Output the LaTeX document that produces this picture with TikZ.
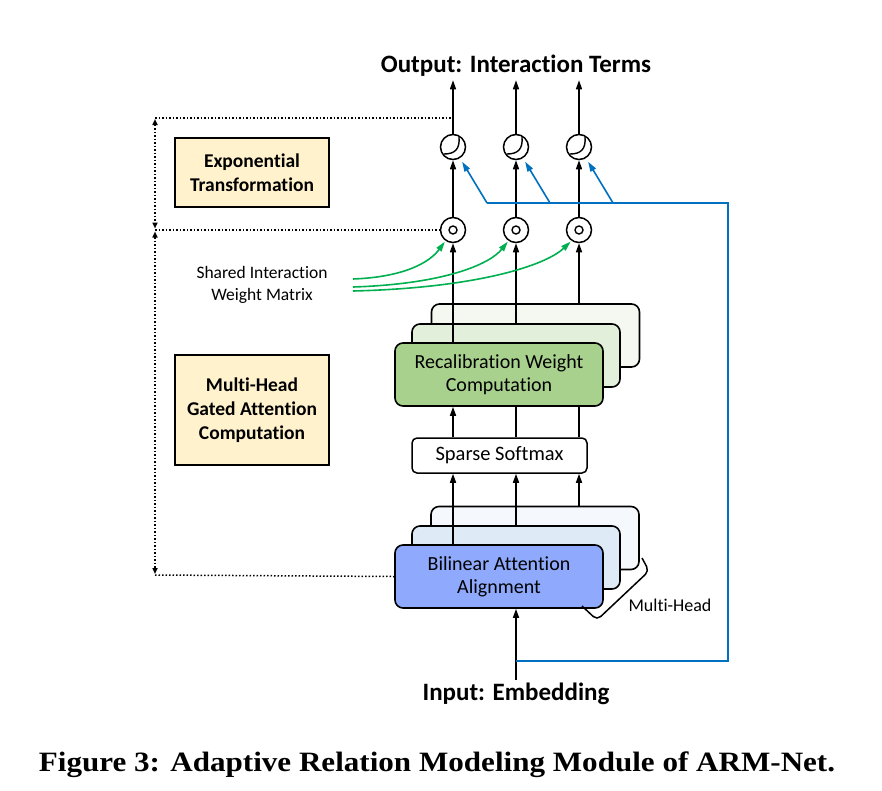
\documentclass[tikz,border=0pt]{standalone}
\usepackage{fontspec}
\setmainfont{Carlito}[Ligatures=NoCommon]
\newfontfamily\capfont{Liberation Serif}[FakeStretch=1.11]
\usetikzlibrary{arrows.meta,positioning,calc}
\definecolor{Blue}{HTML}{0070C0}
\definecolor{Green}{HTML}{00B050}
\definecolor{Cream}{HTML}{FFF2CC}
\definecolor{GreenA}{HTML}{A9D18E}
\definecolor{GreenB}{HTML}{E2EFDA}
\definecolor{GreenC}{HTML}{F4F8F0}
\definecolor{BlueA}{HTML}{8FAAFC}
\definecolor{BlueB}{HTML}{DEEBF7}
\definecolor{BlueC}{HTML}{F5F8FD}
\tikzset{
  stack/.style={rounded corners=8pt,draw,line width=1.6pt,minimum width=208pt,minimum height=63pt,align=center,inner sep=0pt,font=\fontsize{20}{23}\selectfont},
  note/.style={draw,line width=1.4pt,fill=Cream,minimum width=154pt,align=center,inner sep=0pt,font=\fontsize{19.5}{24}\selectfont\bfseries},
  gate/.style={circle,draw,line width=1.5pt,minimum size=25pt,inner sep=0pt,fill=white},
  arrow/.style={-{Triangle[length=9pt,width=6pt]},line width=1.5pt},
  guide/.style={dotted,line width=1.5pt},
  guidearrow/.style={{Triangle[length=6pt,width=5pt]}-{Triangle[length=6pt,width=5pt]},dotted,line width=1.5pt},
  bluearrow/.style={-{Triangle[length=10pt,width=6pt]},line width=1.6pt,draw=Blue},
  greenarrow/.style={-{Triangle[length=10pt,width=6pt]},line width=1.6pt,draw=Green},
  title/.style={font=\fontsize{25}{28}\selectfont\bfseries}
}
\begin{document}
\begin{tikzpicture}[x=1pt,y=-1pt]
  \useasboundingbox (0,0) rectangle (882,790);

  \node[title] (output) at (516,66) {Output: Interaction Terms};
  \node[title] (input) at (516,694) {Input: Embedding};

  \node[note,minimum height=69pt] (expnote) at (252,172.5) {Exponential\\Transformation};
  \node[note,minimum height=110pt] (attnote) at (252,410) {Multi-Head\\Gated Attention\\Computation};
  \node[align=center,font=\fontsize{17.5}{22}\selectfont] (shared) at (262,285) {Shared Interaction\\Weight Matrix};

  \node[stack,fill=GreenC] (recal3) at (535.5,335.5) {};
  \node[stack,fill=GreenB] (recal2) at (516,355.5) {};
  \node[stack,fill=GreenA] (recal) at (499,374.5) {Recalibration Weight\\Computation};

  \node[draw,line width=1.5pt,rounded corners=5pt,minimum width=175pt,minimum height=35pt,inner sep=0pt,font=\fontsize{20.5}{22}\selectfont] (soft) at (499.5,455.5) {Sparse Softmax};

  \node[stack,fill=BlueC] (bil3) at (535,538) {};
  \node[stack,fill=BlueB] (bil2) at (516,557.5) {};
  \node[stack,fill=BlueA] (bil) at (499,576.5) {Bilinear Attention\\Alignment};

  \foreach \i/\x in {1/453,2/516,3/579}{
    \node[gate] (o\i) at (\x,230) {};
    \draw[line width=1.4pt] (o\i) circle (4pt);
    \node[gate] (e\i) at (\x,147) {};
    \draw[line width=1.4pt] ($(e\i)+(-9,7)$) .. controls ($(e\i)+(2,7)$) and ($(e\i)+(7,2)$) .. ($(e\i)+(6,-10)$);
    \draw[arrow] (o\i) -- (e\i);
    \draw[arrow] (e\i) -- (output.south -| e\i);
  }

  \draw[arrow] (recal.north -| o1) -- (o1);
  \draw[arrow] (recal2.north -| o2) -- (o2);
  \draw[arrow] (recal3.north -| o3) -- (o3);

  \draw[arrow] (soft.north -| o1) -- (recal.south -| o1);
  \draw[line width=1.5pt] (soft.north -| o2) -- (recal.south -| o2);
  \draw[line width=1.5pt] (soft.north -| o3) -- (recal.south -| o3);

  \draw[arrow] (bil.north -| o1) -- (soft.south -| o1);
  \draw[arrow] (bil2.north -| o2) -- (soft.south -| o2);
  \draw[arrow] (bil3.north -| o3) -- (soft.south -| o3);

  \draw[arrow] (input.north) -- (input.north |- bil.south);

  \draw[line width=1.5pt,rounded corners=5pt] (582,606) -- (597,620) -- (649,571) -- (642,558);
  \node[font=\fontsize{18}{20}\selectfont] (heads) at (670,605) {Multi-Head};

  \coordinate (tap) at (516,661);
  \coordinate (bus1) at (487,203);
  \coordinate (bus2) at (550,203);
  \coordinate (bus3) at (613,203);
  \draw[line width=1.6pt,draw=Blue] (tap) -| (728,203) -- (bus1);
  \foreach \i in {1,2,3}{
    \draw[bluearrow,shorten >=4pt] (bus\i) -- (e\i.-58);
  }

  \draw[greenarrow,shorten >=1pt] (353,279) .. controls (405,277) and (430,262) .. (o1.-125);
  \draw[greenarrow,shorten >=1pt] (353,287) .. controls (445,284) and (490,264) .. (o2.-125);
  \draw[greenarrow,shorten >=1pt] (353,291) .. controls (475,288) and (545,266) .. (o3.-125);

  \coordinate (g1) at (155,118);
  \coordinate (g2) at (155,230);
  \coordinate (g3) at (155,575);
  \draw[guide] (g1) -- (g1 -| o1);
  \draw[guide] (g2) -- (o1.west);
  \draw[guide] (g3) -- (bil.west);
  \draw[guidearrow,shorten <=1pt,shorten >=1.5pt] (g1) -- (g2);
  \draw[guidearrow,shorten <=1.5pt,shorten >=1pt] (g2) -- (g3);

  \node[font=\capfont\fontsize{28}{30}\selectfont\bfseries] (caption) at (437,765) {Figure 3: Adaptive Relation Modeling Module of ARM-Net.};
\end{tikzpicture}
\end{document}
